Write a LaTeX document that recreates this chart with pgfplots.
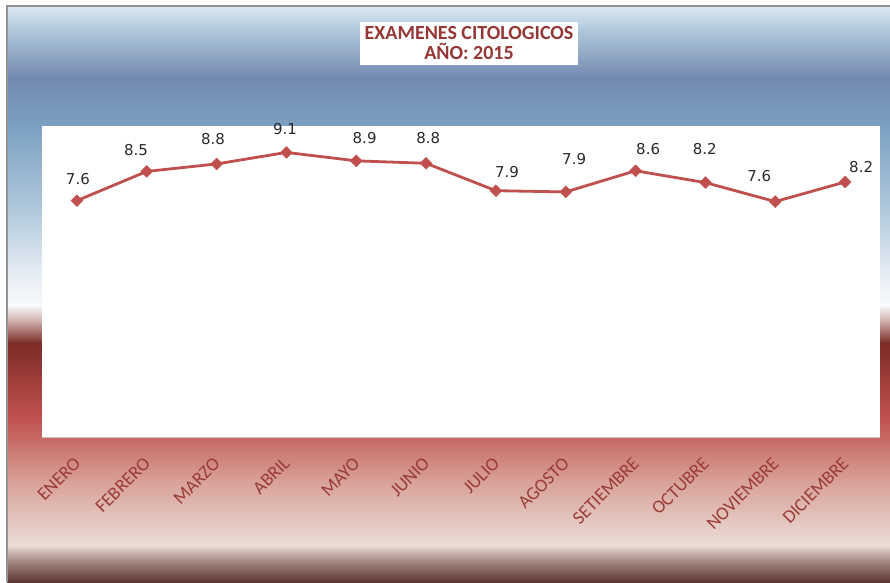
\documentclass[border=0pt]{standalone}
\usepackage{pgfplots}
\pgfplotsset{compat=1.18}
\usepackage{fontspec}
\setmainfont{Carlito}
\newfontfamily\dejavu{DejaVu Sans}
\definecolor{linered}{HTML}{C0504D}
\definecolor{titlered}{HTML}{953735}
\definecolor{ticklab}{HTML}{9A3B38}
\definecolor{labgray}{HTML}{2A2A2A}
\definecolor{b1}{HTML}{DCE8F1}
\definecolor{b2}{HTML}{B0C8DB}
\definecolor{b3}{HTML}{7489B1}
\definecolor{b4}{HTML}{7BA0C2}
\definecolor{b5}{HTML}{A9C3D8}
\definecolor{b6}{HTML}{E3EBF3}
\definecolor{b7}{HTML}{F8FAFC}
\definecolor{r1}{HTML}{D9BDBB}
\definecolor{r2}{HTML}{7C2B27}
\definecolor{r3}{HTML}{C0504D}
\definecolor{r4}{HTML}{C76C66}
\definecolor{r5}{HTML}{D8A098}
\definecolor{r6}{HTML}{EADDD6}
\definecolor{r7}{HTML}{A88C86}
\definecolor{r8}{HTML}{5A3530}
\begin{document}
\begin{tikzpicture}[x=1pt,y=1pt]
\path[use as bounding box] (0,0) rectangle (890,582);
% background bands
\shade[top color=b1, bottom color=b2] (7,576) rectangle (890,551.5);
\shade[top color=b2, bottom color=b3] (7,552) rectangle (890,503.5);
\shade[top color=b3, bottom color=b4] (7,504) rectangle (890,455.5);
\shade[top color=b4, bottom color=b5] (7,456) rectangle (890,381.5);
\shade[top color=b5, bottom color=b6] (7,382) rectangle (890,311.5);
\shade[top color=b6, bottom color=b7] (7,312) rectangle (890,276.5);
\shade[top color=b7, bottom color=r1] (7,277) rectangle (890,263.5);
\shade[top color=r1, bottom color=r2] (7,264) rectangle (890,238.5);
\shade[top color=r2, bottom color=r3] (7,239) rectangle (890,166.5);
\shade[top color=r3, bottom color=r4] (7,167) rectangle (890,141.5);
\shade[top color=r4, bottom color=r5] (7,142) rectangle (890,101.5);
\shade[top color=r5, bottom color=r6] (7,102) rectangle (890,36.5);
\shade[top color=r6, bottom color=r7] (7,37) rectangle (890,21.5);
\shade[top color=r7, bottom color=r8] (7,22) rectangle (890,0);
\draw[color=gray!85, line width=1.5pt] (7,0) -- (7,576) -- (890,576);
\begin{axis}[
  at={(42pt,145pt)}, anchor=south west,
  scale only axis, width=838pt, height=311pt,
  xmin=-0.5, xmax=11.5, ymin=0, ymax=10,
  axis background/.style={fill=white},
  axis x line=bottom, axis y line=none,
  x axis line style={-, draw=gray!45, line width=0.8pt},
  xtick={0,...,11},
  xticklabels={ENERO,FEBRERO,MARZO,ABRIL,MAYO,JUNIO,JULIO,AGOSTO,SETIEMBRE,OCTUBRE,NOVIEMBRE,DICIEMBRE},
  major tick length=0pt,
  xticklabel style={xshift=-4pt, yshift=-19pt, rotate=45, anchor=north east, inner sep=0pt,
    font=\fontsize{18.5}{18.5}\selectfont, text=ticklab},
  ytick=\empty,
  clip=false,
]
\addplot[linered, line width=2.8pt, mark=square*, mark size=4.2pt,
  mark options={rotate=45, solid, fill=linered, draw=linered, line width=0.4pt}]
  coordinates {(0,7.60) (1,8.54) (2,8.78) (3,9.15) (4,8.88) (5,8.80)
               (6,7.92) (7,7.88) (8,8.56) (9,8.18) (10,7.57) (11,8.20)};
\addplot[draw=none, mark=none, nodes near coords, point meta=explicit symbolic,
  every node near coord/.append style={anchor=center, inner sep=0pt,
    font=\dejavu\fontsize{15}{15}\selectfont, text=labgray}]
  table[meta=lab, row sep=\\] {
  x y lab\\
  0.014 8.30 7.6\\
  0.845 9.23 8.5\\
  1.948 9.58 8.8\\
  2.98 9.90 9.1\\
  4.12 9.61 8.9\\
  5.03 9.61 8.8\\
  6.16 8.52 7.9\\
  7.12 8.94 7.9\\
  8.18 9.26 8.6\\
  8.99 9.26 8.2\\
  9.77 8.39 7.6\\
  11.23 8.68 8.2\\
  };
\end{axis}
\node[fill=white, inner sep=0pt, minimum width=218pt, minimum height=43pt,
  text=titlered, font=\bfseries\fontsize{20}{20}\selectfont, align=center]
  at (469,538.5) {EXAMENES CITOLOGICOS\\AÑO: 2015};
\end{tikzpicture}
\end{document}
